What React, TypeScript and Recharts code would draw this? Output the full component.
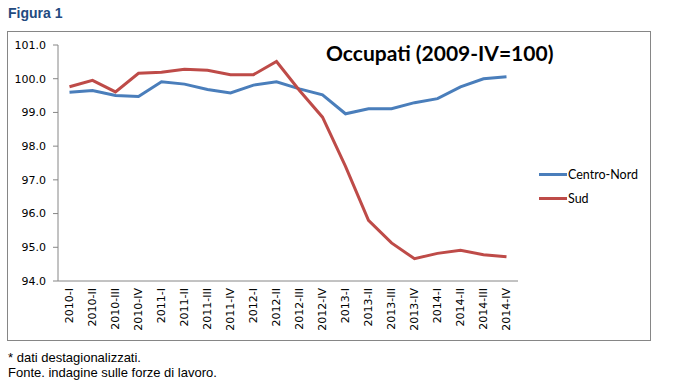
import React from 'react';
import { LineChart, Line, XAxis, YAxis, Legend } from 'recharts';

const quarters = [
  '2010-I', '2010-II', '2010-III', '2010-IV',
  '2011-I', '2011-II', '2011-III', '2011-IV',
  '2012-I', '2012-II', '2012-III', '2012-IV',
  '2013-I', '2013-II', '2013-III', '2013-IV',
  '2014-I', '2014-II', '2014-III', '2014-IV',
];
const centroNord = [
  99.60, 99.65, 99.50, 99.47, 99.91, 99.84, 99.68, 99.58, 99.81, 99.91,
  99.70, 99.52, 98.96, 99.11, 99.11, 99.29, 99.41, 99.76, 100.0, 100.06,
];
const sud = [
  99.76, 99.95, 99.61, 100.16, 100.19, 100.28, 100.25, 100.12, 100.12, 100.51,
  99.65, 98.86, 97.40, 95.80, 95.13, 94.66, 94.82, 94.91, 94.78, 94.72,
];
const yTicks = [94, 95, 96, 97, 98, 99, 100, 101];
const seriesNames = ['Centro-Nord', 'Sud'];
const colors = ['#4A7EBB', '#BE4B48'];

const data = quarters.map((q, i) => ({ q, idx: i, cn: centroNord[i], sud: sud[i] }));
const boundaryTicks = [...quarters.map((_, i) => i), quarters.length];

const AXIS = '#868686';
const TICK_FONT = 'Verdana, "DejaVu Sans", sans-serif';

const XTick = (props: any) => {
  const { x, y, payload } = props;
  return (
    <text
      x={x}
      y={y}
      transform={`rotate(-90, ${x}, ${y})`}
      textAnchor="end"
      dy="0.36em"
      fontSize={11}
      fontFamily={TICK_FONT}
      fill="#000"
    >
      {payload.value}
    </text>
  );
};

const LegendContent = () => (
  <div style={{ fontFamily: 'Lato, "Open Sans", sans-serif', fontSize: 12.5, color: '#000' }}>
    {seriesNames.map((n, i) => (
      <div key={n} style={{ display: 'flex', alignItems: 'center', height: 24 }}>
        <div style={{ width: 28, height: 3, background: colors[i] }} />
        <span style={{ marginLeft: 1 }}>{n}</span>
      </div>
    ))}
  </div>
);

export default function App() {
  return (
    <div style={{ position: 'absolute', left: 0, top: 0, width: 674, height: 386, background: '#fff' }}>
      <div
        style={{
          position: 'absolute', left: 8, top: 6, fontFamily: 'Arial, "Liberation Sans", sans-serif',
          fontWeight: 'bold', fontSize: 14, lineHeight: '14px', color: '#234A7F',
        }}
      >
        Figura 1
      </div>
      <div
        style={{
          position: 'absolute', left: 7, top: 31, width: 642, height: 308,
          border: `1px solid ${AXIS}`,
        }}
      />
      <div style={{ position: 'absolute', left: 0, top: 0 }}>
        <LineChart width={674} height={386} data={data} margin={{ top: 45, right: 156, bottom: 55, left: 8 }}>
          <XAxis
            xAxisId="bounds"
            type="number"
            dataKey="idx"
            domain={[0, quarters.length]}
            ticks={boundaryTicks}
            tick={false}
            tickLine={{ stroke: AXIS }}
            tickSize={5}
            axisLine={false}
            height={0}
            allowDataOverflow
          />
          <XAxis
            xAxisId="cat"
            dataKey="q"
            type="category"
            interval={0}
            padding={{ left: 11.5, right: 11.5 }}
            axisLine={{ stroke: AXIS }}
            tickLine={false}
            tickSize={0}
            tickMargin={7}
            tick={<XTick />}
            height={50}
          />
          <YAxis
            domain={[94, 101]}
            ticks={yTicks}
            interval={0}
            tickFormatter={(v: number) => v.toFixed(1)}
            axisLine={{ stroke: AXIS }}
            tickLine={{ stroke: AXIS }}
            tickSize={5}
            tickMargin={7}
            width={50}
            tick={{ fontSize: 11, fontFamily: TICK_FONT, fill: '#000' }}
          />
          <Legend
            layout="vertical"
            align="center"
            verticalAlign="middle"
            content={<LegendContent />}
            wrapperStyle={{ left: 539, top: 162, width: 110, height: 50 }}
          />
          <Line
            xAxisId="cat"
            dataKey="cn"
            name={seriesNames[0]}
            stroke={colors[0]}
            strokeWidth={3}
            dot={false}
            isAnimationActive={false}
          />
          <Line
            xAxisId="cat"
            dataKey="sud"
            name={seriesNames[1]}
            stroke={colors[1]}
            strokeWidth={3}
            dot={false}
            isAnimationActive={false}
          />
        </LineChart>
      </div>
      <div
        style={{
          position: 'absolute', left: 326, top: 40, fontFamily: 'Lato, "Open Sans", sans-serif',
          fontWeight: 'bold', fontSize: 21, lineHeight: '26px', color: '#000', whiteSpace: 'nowrap',
        }}
      >
        Occupati (2009-IV=100)
      </div>
      <div
        style={{
          position: 'absolute', left: 8, top: 350, fontFamily: 'Arial, "Liberation Sans", sans-serif',
          fontSize: 13, lineHeight: '15px', color: '#000',
        }}
      >
        <div>* dati destagionalizzati.</div>
        <div>Fonte. indagine sulle forze di lavoro.</div>
      </div>
    </div>
  );
}
